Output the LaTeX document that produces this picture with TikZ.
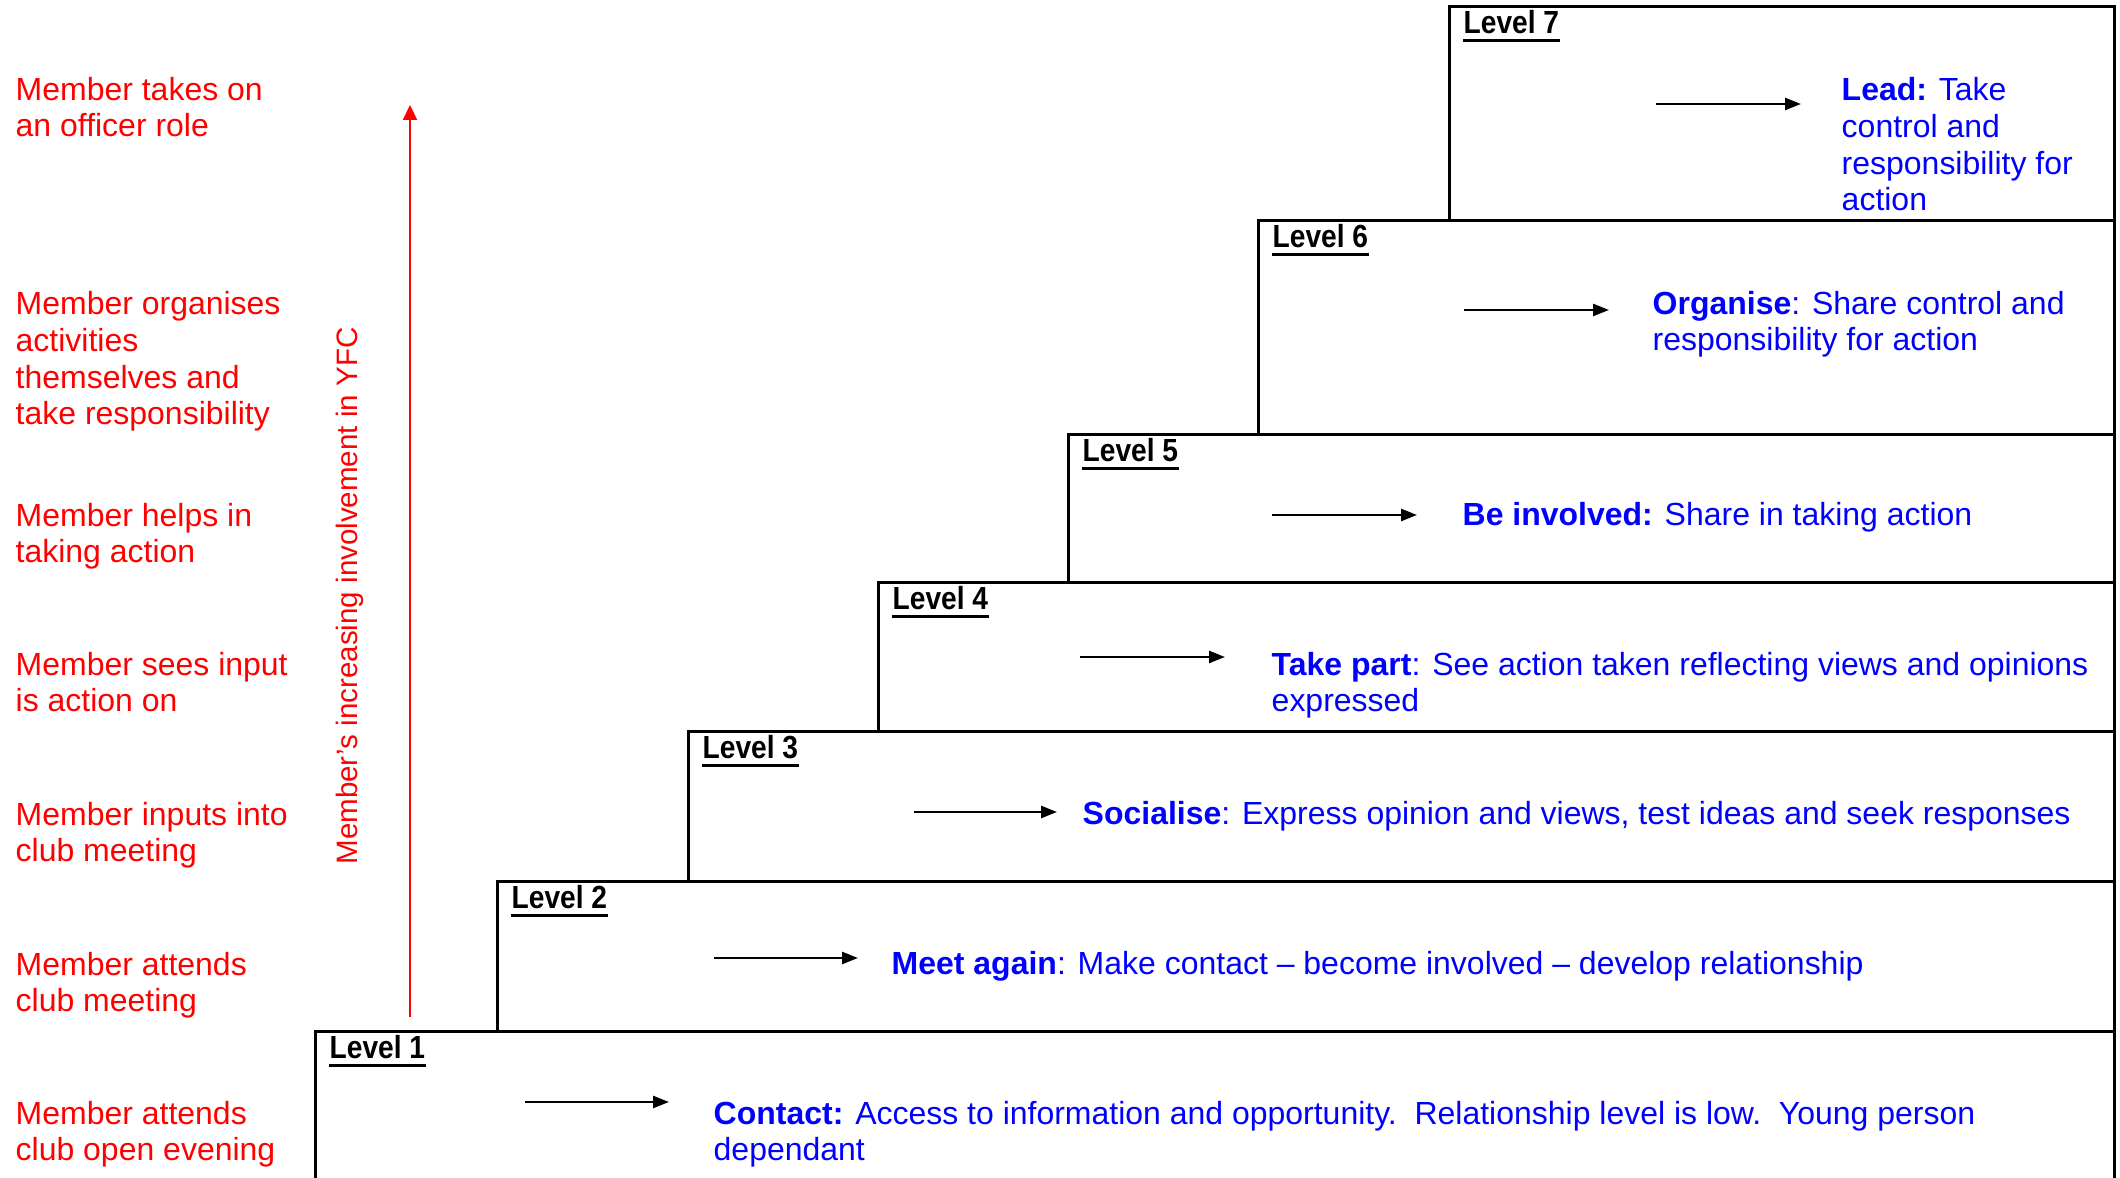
\documentclass[tikz,border=0pt]{standalone}
\usepackage{fontspec}
\setmainfont{Liberation Sans}
\newfontfamily\levelfont[FakeStretch=0.88]{Liberation Sans}
\usetikzlibrary{arrows.meta}

\begin{document}
\begin{tikzpicture}[
  x=0.1mm, y=-0.1mm,
  font=\fontsize{9.1}{10.5}\selectfont,
  stepbox/.style={draw,line width=0.75pt,anchor=north west,inner sep=0pt},
  levellabel/.style={anchor=base west,inner sep=0pt,font=\fontsize{9.1}{10.5}\selectfont\levelfont\bfseries},
  stage/.style={anchor=base west,inner sep=0pt,align=left,text=blue},
  member/.style={anchor=base west,inner sep=0pt,align=left,text=red},
  pointer/.style={-{Triangle[length=1.6mm,width=1.2mm]},line width=0.7pt},
  rise/.style={-{Triangle[length=1.5mm,width=1.4mm]},red,line width=0.6pt}]

  \useasboundingbox (0,0) rectangle (2120,1178);

  % Staircase of level boxes, each with its underlined title
  \foreach \n/\x/\t/\b in {1/314/1030/1200,2/496/880/1030,3/687/730/880,4/877/581/730,5/1067/433/581,6/1257/219/433,7/1448/5/219}{
    \node[stepbox,minimum width={(2113-\x)*0.1mm},minimum height={(\b-\t)*0.1mm}] (box\n) at (\x,\t) {};
    \node[levellabel] (lab\n) at ([xshift=1.5mm,yshift=-2.9mm]box\n.north west) {Level \n};
    \draw[line width=0.9pt] ([yshift=-1.8pt]lab\n.base west) -- ([yshift=-1.8pt]lab\n.base east);
  }

  % Short arrows pointing at the stage texts
  \foreach \n/\s/\e/\y in {1/525/669/1102,2/714/858/958,3/914/1057/812,4/1080/1225/657,5/1272/1417/515,6/1464/1609/310,7/1656/1801/104}{
    \coordinate (from\n) at (\s,\y);
    \coordinate (to\n) at (\e,\y);
    \draw[pointer] (from\n) -- (to\n);
  }

  % Stage descriptions (placed by the baseline of their last line)
  \node[stage] (stage1) at (713,1161) {\textbf{Contact:} Access to information and opportunity.\ \ Relationship level is low.\ \ Young person\\dependant};
  \node[stage] (stage2) at (891,975) {\textbf{Meet again}: Make contact – become involved – develop relationship};
  \node[stage] (stage3) at (1082,825) {\textbf{Socialise}: Express opinion and views, test ideas and seek responses};
  \node[stage] (stage4) at (1271,712) {\textbf{Take part}: See action taken reflecting views and opinions\\expressed};
  \node[stage] (stage5) at (1462,526) {\textbf{Be involved:} Share in taking action};
  \node[stage] (stage6) at (1652,351) {\textbf{Organise}: Share control and\\responsibility for action};
  \node[stage] (stage7) at (1841,211) {\textbf{Lead:} Take\\control and\\responsibility for\\action};

  % What the member does at each level
  \node[member] (member1) at (15,1161) {Member attends\\club open evening};
  \node[member] (member2) at (15,1012) {Member attends\\club meeting};
  \node[member] (member3) at (15,862) {Member inputs into\\club meeting};
  \node[member] (member4) at (15,712) {Member sees input\\is action on};
  \node[member] (member5) at (15,563) {Member helps in\\taking action};
  \node[member] (member6) at (15,425) {Member organises\\activities\\themselves and\\take responsibility};
  \node[member] (member7) at (15,137) {Member takes on\\an officer role};

  % Rising involvement arrow
  \coordinate (low) at (410,1017);
  \coordinate (high) at (410,105);
  \draw[rise] (low) -- (high);
  \node[text=red,rotate=90,inner sep=0pt,font=\fontsize{8.4}{10}\selectfont] (involvement) at (350,596) {Member’s increasing involvement in YFC};
\end{tikzpicture}
\end{document}
